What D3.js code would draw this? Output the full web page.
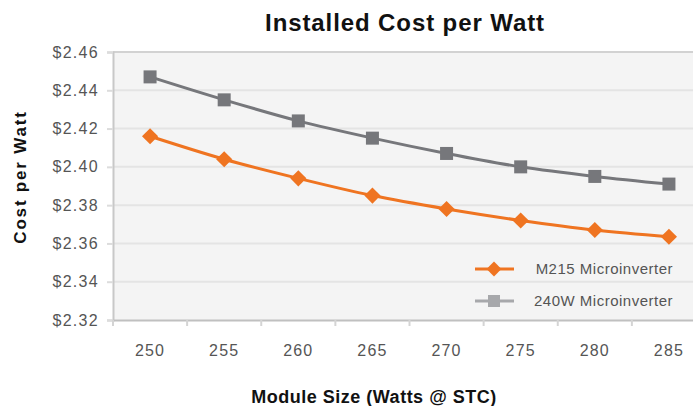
<!DOCTYPE html>
<html>
<head>
<meta charset="utf-8">
<script src="https://cdn.jsdelivr.net/npm/d3@7"></script>
<style>
  body { margin: 0; background: #fff; }
  svg { display: block; font-family: 'Liberation Sans', Arial, sans-serif; }
</style>
</head>
<body>
<svg width="693" height="406"></svg>
<script>
'use strict';

const moduleSizes = [250, 255, 260, 265, 270, 275, 280, 285];
const m215Cost = [2.416, 2.404, 2.394, 2.385, 2.378, 2.372, 2.367, 2.3635];
const w240Cost = [2.447, 2.435, 2.424, 2.415, 2.407, 2.400, 2.395, 2.391];
const yTicks = [2.32, 2.34, 2.36, 2.38, 2.40, 2.42, 2.44, 2.46];

const series = [
  { name: 'M215 Microinverter', values: m215Cost, color: '#ef7421', legendColor: '#ef7421', marker: 'diamond' },
  { name: '240W Microinverter', values: w240Cost, color: '#76777b', legendColor: '#a7a8ab', marker: 'square' }
];

const svg = d3.select('svg');
const plot = { left: 113, top: 52, bottom: 320, right: 706 };

const x = d3.scaleBand()
  .domain(moduleSizes)
  .range([plot.left, plot.right]);

const y = d3.scaleLinear()
  .domain([2.32, 2.46])
  .range([plot.bottom, plot.top]);

// plot background
svg.append('rect')
  .attr('x', plot.left)
  .attr('y', plot.top)
  .attr('width', plot.right - plot.left)
  .attr('height', plot.bottom - plot.top)
  .attr('fill', '#f4f4f4');

// gridlines
svg.append('g')
  .selectAll('line')
  .data(yTicks.slice(1))
  .enter().append('line')
    .attr('x1', plot.left)
    .attr('x2', plot.right)
    .attr('y1', d => y(d))
    .attr('y2', d => y(d))
    .attr('stroke', d => d === 2.46 ? '#d2d2d2' : '#e4e4e4')
    .attr('stroke-width', 2);

// y axis
const yAxis = svg.append('g')
  .attr('transform', `translate(${plot.left},0)`)
  .call(d3.axisLeft(y)
    .tickValues(yTicks)
    .tickSize(6)
    .tickPadding(8)
    .tickFormat(d => '$' + d.toFixed(2)));
yAxis.select('.domain').attr('stroke', '#c8c8c8').attr('stroke-width', 2);
yAxis.selectAll('.tick line').attr('stroke', '#dcdcdc').attr('stroke-width', 2);
yAxis.selectAll('.tick text')
  .attr('fill', '#555')
  .attr('font-size', 16)
  .attr('letter-spacing', 1.3)
  .attr('x', -14);

// x axis
const xAxis = svg.append('g')
  .attr('transform', `translate(0,${plot.bottom})`)
  .call(d3.axisBottom(x).tickSize(0).tickPadding(25));
xAxis.select('.domain').attr('stroke', '#c0c0c0').attr('stroke-width', 2);
xAxis.selectAll('.tick text')
  .attr('fill', '#555')
  .attr('font-size', 16)
  .attr('letter-spacing', 1.2);

// small ticks at band boundaries
svg.append('g')
  .selectAll('line')
  .data(moduleSizes)
  .enter().append('line')
    .attr('x1', d => x(d))
    .attr('x2', d => x(d))
    .attr('y1', plot.bottom)
    .attr('y2', plot.bottom + 6)
    .attr('stroke', '#d4d4d4')
    .attr('stroke-width', 2);

const line = d3.line()
  .x((d, i) => x(moduleSizes[i]) + x.bandwidth() / 2)
  .y(d => y(d))
  .curve(d3.curveMonotoneX);

function drawMarker(g, type, color, size) {
  if (type === 'square') {
    g.append('rect')
      .attr('x', -size / 2)
      .attr('y', -size / 2)
      .attr('width', size)
      .attr('height', size)
      .attr('fill', color);
  } else {
    const s = size * 0.62;
    g.append('path')
      .attr('d', `M0,${-s}L${s},0L0,${s}L${-s},0Z`)
      .attr('fill', color);
  }
}

for (const s of series.slice().reverse()) {
  svg.append('path')
    .datum(s.values)
    .attr('d', line)
    .attr('fill', 'none')
    .attr('stroke', s.color)
    .attr('stroke-width', 3);
  s.values.forEach((v, i) => {
    const g = svg.append('g')
      .attr('transform', `translate(${x(moduleSizes[i]) + x.bandwidth() / 2},${y(v)})`);
    drawMarker(g, s.marker, s.color, 13);
  });
}

// legend
const legendY = [269, 301];
series.forEach((s, i) => {
  const g = svg.append('g').attr('transform', `translate(0,${legendY[i]})`);
  g.append('line')
    .attr('x1', 475)
    .attr('x2', 514)
    .attr('stroke', s.legendColor)
    .attr('stroke-width', 3);
  const m = g.append('g').attr('transform', 'translate(494,0)');
  drawMarker(m, s.marker, s.legendColor, 12);
  g.append('text')
    .attr('x', 673)
    .attr('y', 5)
    .attr('text-anchor', 'end')
    .attr('fill', '#555')
    .attr('font-size', 15)
    .attr('letter-spacing', 0.5)
    .text(s.name);
});

// titles
svg.append('text')
  .attr('x', 405)
  .attr('y', 31)
  .attr('text-anchor', 'middle')
  .attr('font-size', 24)
  .attr('font-weight', 'bold')
  .attr('letter-spacing', 0.9)
  .attr('fill', '#111')
  .text('Installed Cost per Watt');

svg.append('text')
  .attr('transform', 'translate(26,177) rotate(-90)')
  .attr('text-anchor', 'middle')
  .attr('font-size', 17)
  .attr('font-weight', 'bold')
  .attr('letter-spacing', 1.8)
  .attr('fill', '#111')
  .text('Cost per Watt');

svg.append('text')
  .attr('x', 374)
  .attr('y', 403)
  .attr('text-anchor', 'middle')
  .attr('font-size', 18)
  .attr('font-weight', 'bold')
  .attr('letter-spacing', 0.5)
  .attr('fill', '#111')
  .text('Module Size (Watts @ STC)');
</script>
</body>
</html>
